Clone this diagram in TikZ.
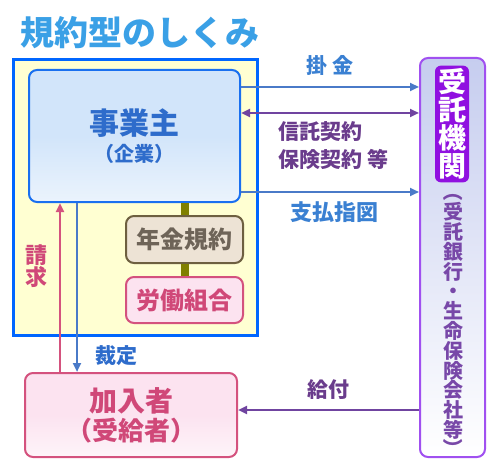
\documentclass[tikz,border=0pt]{standalone}
\usepackage{fontspec}
\setmainfont{Noto Sans CJK JP}
\usetikzlibrary{arrows.meta}
\definecolor{titleblue}{HTML}{3AA0E6}
\definecolor{framblue}{HTML}{0066FF}
\definecolor{framfill}{HTML}{FFFFD2}
\definecolor{empfill}{HTML}{D2E5FA}
\definecolor{empline}{HTML}{1A70F0}
\definecolor{emptext}{HTML}{2E6CCB}
\definecolor{olive}{HTML}{808000}
\definecolor{rulefill}{HTML}{EDE3D5}
\definecolor{ruleline}{HTML}{6E6040}
\definecolor{ruletext}{HTML}{6E6458}
\definecolor{pinkfill}{HTML}{FCE3F0}
\definecolor{pinkline}{HTML}{D4527E}
\definecolor{pinktext}{HTML}{D04878}
\definecolor{steel}{HTML}{4A7AC8}
\definecolor{labelblue}{HTML}{3A80D2}
\definecolor{grape}{HTML}{7044A0}
\definecolor{grapetext}{HTML}{6A3C8C}
\definecolor{trustline}{HTML}{A050F0}
\definecolor{trusttop}{HTML}{C6CDEF}
\definecolor{trustmark}{HTML}{9010E0}
\definecolor{trusttext}{HTML}{7848A8}
\newcommand{\jpsize}[1]{\fontsize{#1}{#1}\selectfont\bfseries}

\begin{document}
\begin{tikzpicture}[%
        x=1pt,y=-1pt,%
        >={Triangle[length=9pt,width=8pt]}%
    ]
        \tikzset{%
            box/.style={draw, rounded corners=8pt, line width=2pt, align=center, inner sep=0pt},%
            flow/.style={->, line width=2.5pt},%
            word/.style={inner sep=0pt, align=left},%
        }%
        \useasboundingbox (0,0) rectangle (490,468);%

        %
        % Titre
        %
        \node[word, text=titleblue, anchor=west, font=\jpsize{34}] (title) at (20,33) {規約型のしくみ};%

        %
        % Boites
        %
        % Cadre du regime
        \node[draw=framblue, fill=framfill, line width=3pt, minimum width=244pt, minimum height=275pt] (frame) at (135,197.5) {};%
        % Employeur
        \node[box, draw=empline, top color=empfill, bottom color=empfill!45!white, middle color=empfill, text=emptext,%
            minimum width=211pt, minimum height=132pt, font=\jpsize{20}] (employer) at (134.5,136)%
            {{\jpsize{30}事業主}\\[6pt]（企業）};%
        % Reglement et syndicat
        \node[box, draw=ruleline, fill=rulefill, text=ruletext, minimum width=117pt, minimum height=47pt, font=\jpsize{24}] (rules) at (184.5,239.5)%
            {年金規約};%
        \node[box, draw=pinkline, fill=pinkfill, text=pinktext, minimum width=117pt, minimum height=46pt, font=\jpsize{24}] (union) at (184.5,300)%
            {労働組合};%
        % Adherent
        \node[box, draw=pinkline, top color=pinkfill, bottom color=pinkfill!40!white, middle color=pinkfill, text=pinktext,%
            minimum width=212pt, minimum height=84pt, font=\jpsize{26}] (member) at (131,415)%
            {{\jpsize{28}加入者}\\[3pt]（受給者）};%
        % Organisme gestionnaire
        \node[box, draw=trustline, top color=trusttop, bottom color=white, minimum width=65pt, minimum height=399pt] (trustee) at (452.5,257.5) {};%
        \node[box, draw=none, fill=trustmark, text=white, rounded corners=6pt, inner sep=3pt, font=\jpsize{28}] (trustee name) at (452,124)%
            {受\\託\\機\\関};%
        \node[word, align=center, text=trusttext, font=\fontsize{20}{19.8}\selectfont\bfseries] (trustee kind) at (453,321)%
            {受\\託\\銀\\行\\・\\生\\命\\保\\険\\会\\社\\等};%
        \node[word, rotate=-90, text=trusttext, font=\jpsize{20}] (kind open) at (453,192) {（};%
        \node[word, rotate=-90, text=trusttext, font=\jpsize{20}] (kind close) at (453,448) {）};%

        %
        % Liaisons
        %
        \draw[olive, line width=8pt] (employer.south -| rules.north) -- (rules.north);%
        \draw[olive, line width=8pt] (rules.south) -- (union.north);%

        \draw[flow, steel] ([yshift=49pt]employer.east) -- ([yshift=49pt]employer.east -| trustee.west)%
            node[midway, above=7pt, text=labelblue, font=\jpsize{21}] (premium) {掛\ 金};%
        \draw[flow, grape, <->] ([yshift=23pt]employer.east) -- ([yshift=23pt]employer.east -| trustee.west);%
        \node[word, anchor=west, text=grapetext, font=\jpsize{21}] (contract) at (278,146) {信託契約\\[7pt]保険契約 等};%
        \draw[flow, steel] ([yshift=-56pt]employer.east) -- ([yshift=-56pt]employer.east -| trustee.west);%
        \node[word, text=labelblue, font=\jpsize{22}] (order) at (334,212) {支払指図};%

        \draw[flow, grape] ([yshift=5pt]member.east -| trustee.west) -- ([yshift=5pt]member.east)%
            node[midway, above=6pt, text=grapetext, font=\jpsize{21}] (benefit) {給付};%

        \draw[flow, pinkline] ([xshift=-71pt]member.north) -- ([xshift=-71pt]member.north |- employer.south);%
        \node[word, align=center, text=pinktext, font=\jpsize{22}] (claim) at (36,266) {請\\求};%
        \draw[flow, steel] ([xshift=-54pt]member.north |- employer.south) -- ([xshift=-54pt]member.north);%
        \node[word, text=emptext, font=\jpsize{21}] (award) at (116,356) {裁定};%
    \end{tikzpicture}
\end{document}
